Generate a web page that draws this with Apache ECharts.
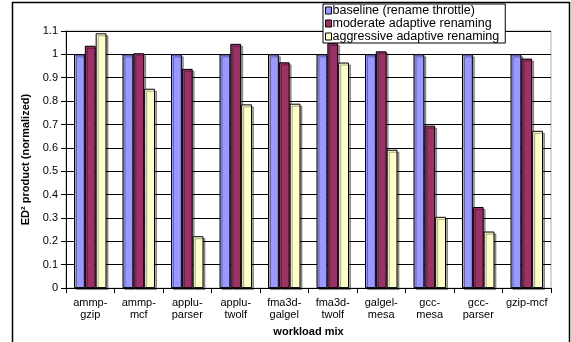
<!DOCTYPE html>
<html>
<head>
<meta charset="utf-8">
<script src="https://cdn.jsdelivr.net/npm/echarts@6/dist/echarts.min.js"></script>
<style>
  html, body { margin: 0; padding: 0; background: #fff; }
  #chart { width: 571px; height: 342px; }
</style>
</head>
<body>
<div id="chart"></div>
<script>
// Workload mixes on the x axis
const categories = [
  'ammp-\ngzip', 'ammp-\nmcf', 'applu-\nparser', 'applu-\ntwolf', 'fma3d-\ngalgel',
  'fma3d-\ntwolf', 'galgel-\nmesa', 'gcc-\nmesa', 'gcc-\nparser', 'gzip-mcf'
];

// Normalized ED^2 product per renaming policy
const baseline   = [1, 1, 1, 1, 1, 1, 1, 1, 1, 1];
const moderate   = [1.037, 1.005, 0.938, 1.045, 0.966, 1.048, 1.013, 0.695, 0.347, 0.982];
const aggressive = [1.090, 0.853, 0.222, 0.786, 0.789, 0.965, 0.592, 0.305, 0.242, 0.673];

const seriesNames = [
  'baseline (rename throttle)',
  'moderate adaptive renaming',
  'aggressive adaptive renaming'
];

const yTicks = [0, 0.1, 0.2, 0.3, 0.4, 0.5, 0.6, 0.7, 0.8, 0.9, 1, 1.1];

const font = '"Liberation Sans", Arial, sans-serif';
const colors = ['#9999FF', '#993366', '#FFFFCC'];

function barSeries(name, data, color) {
  return {
    name: name,
    type: 'bar',
    data: data,
    barGap: 0,
    barCategoryGap: '33%',
    itemStyle: {
      color: color,
      borderColor: '#000',
      borderWidth: 1,
      shadowColor: 'rgba(0,0,0,0.35)',
      shadowOffsetX: 2,
      shadowOffsetY: 2,
      shadowBlur: 0
    }
  };
}

const chart = echarts.init(document.getElementById('chart'), null, { renderer: 'canvas' });

chart.setOption({
  animation: false,
  backgroundColor: '#fff',
  textStyle: { fontFamily: font, color: '#000' },
  grid: {
    left: 66, right: 20, top: 31, bottom: 50,
    show: true, borderColor: '#b0b0b0', borderWidth: 1, backgroundColor: 'transparent'
  },
  legend: {
    orient: 'vertical',
    left: 323, top: 4,
    padding: [0, 6, 0, 2],
    itemGap: 0,
    itemWidth: 6, itemHeight: 7,
    icon: 'rect',
    backgroundColor: '#fff',
    borderColor: '#000',
    borderWidth: 1,
    itemStyle: { borderColor: '#000', borderWidth: 1, shadowColor: 'transparent', shadowOffsetX: 0, shadowOffsetY: 0 },
    textStyle: { fontFamily: font, fontSize: 12.5, color: '#000', lineHeight: 10.5, padding: [0, 0, 0, -4] },
    data: seriesNames
  },
  xAxis: {
    type: 'category',
    data: categories,
    name: 'workload mix',
    nameLocation: 'middle',
    nameGap: 35,
    nameTextStyle: { fontFamily: font, fontSize: 11, fontWeight: 'bold', color: '#000' },
    axisLine: { lineStyle: { color: '#000', width: 1 } },
    axisTick: { show: true, length: 5, lineStyle: { color: '#000' } },
    axisLabel: { fontFamily: font, fontSize: 11, color: '#000', margin: 9, lineHeight: 12, interval: 0 }
  },
  yAxis: {
    type: 'value',
    min: 0,
    max: 1.1,
    interval: 0.1,
    name: 'ED\u00B2 product (normalized)',
    nameLocation: 'middle',
    nameGap: 29,
    nameTextStyle: { fontFamily: font, fontSize: 11, fontWeight: 'bold', color: '#000' },
    axisLine: { show: true, lineStyle: { color: '#000', width: 1 } },
    axisTick: { show: true, length: 5, lineStyle: { color: '#000' } },
    axisLabel: {
      fontFamily: font, fontSize: 11, color: '#000', margin: 8,
      formatter: function (v) {
        const t = yTicks.find(function (k) { return Math.abs(k - v) < 1e-6; });
        return t === undefined ? '' : String(t);
      }
    },
    splitLine: { show: true, lineStyle: { color: '#000', width: 1 } }
  },
  series: [
    barSeries(seriesNames[0], baseline, colors[0]),
    barSeries(seriesNames[1], moderate, colors[1]),
    barSeries(seriesNames[2], aggressive, colors[2])
  ],
  graphic: [{
    type: 'rect',
    silent: true,
    z: -1,
    shape: { x: 12.5, y: 2.5, width: 557, height: 345 },
    style: { fill: 'none', stroke: '#000', lineWidth: 1.5 }
  }]
});
</script>
</body>
</html>
